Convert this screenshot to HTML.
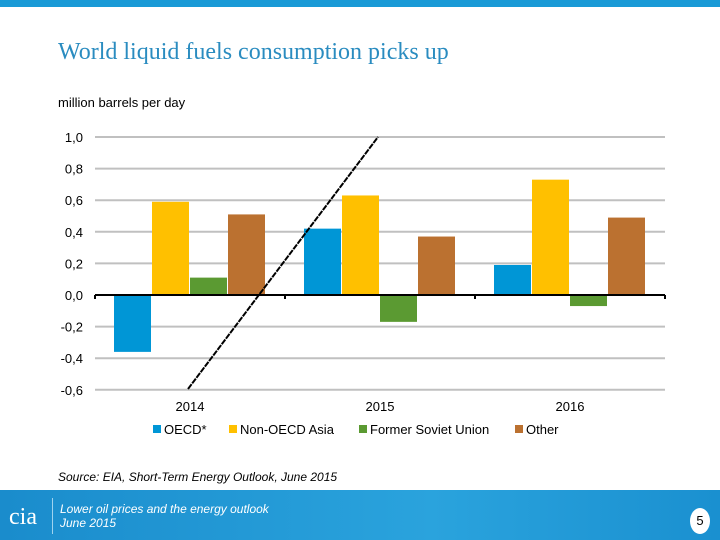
<!DOCTYPE html>
<html><head><meta charset="utf-8"><style>
body{margin:0;width:720px;height:540px;position:relative;background:#fff;overflow:hidden;font-family:"Liberation Sans",sans-serif}
.a{position:absolute}
</style></head><body>
<div class="a" style="left:0;top:0;width:720px;height:7px;background:#1a9ad6"></div>
<div class="a" style="left:58px;top:39px;font-family:'Liberation Serif',serif;font-size:24px;color:#2a8cc0">World liquid fuels consumption picks up</div>
<div class="a" style="left:58px;top:95px;font-size:13px;color:#000">million barrels per day</div>
<svg class="a" style="left:0;top:0" width="720" height="540">
<g id="grid"></g><g id="bars"></g><g id="axis"></g>
<line x1="188" y1="389" x2="378" y2="137" stroke="#000" stroke-width="2" stroke-dasharray="6,1"/>
<g id="legend" font-size="13" font-family="Liberation Sans, sans-serif"></g>
</svg>
<div class="a" style="left:58px;top:470px;font-size:12px;font-style:italic;color:#000">Source: EIA, Short-Term Energy Outlook, June 2015</div>
<div class="a" style="left:0;top:490px;width:720px;height:50px;background:linear-gradient(90deg,#1a8ccc,#2aa3dd 60%,#1a90d0)">
<div class="a" style="left:9px;top:14px;font-family:'Liberation Serif',serif;font-size:24px;color:#fff">cia</div>
<div class="a" style="left:52px;top:8px;width:1px;height:36px;background:#9fd3ef"></div>
<div class="a" style="left:60px;top:12px;font-size:12px;font-style:italic;color:#fff;line-height:14px">Lower oil prices and the energy outlook<br>June 2015</div>
<div class="a" style="left:690px;top:18px;width:20px;height:26px;border-radius:50%;background:#fff;color:#000;font-size:13px;text-align:center;line-height:26px">5</div>
</div>
<script>
const categories=['2014','2015','2016'];
const seriesNames=['OECD*','Non-OECD Asia','Former Soviet Union','Other'];
const oecd=[-0.36,0.42,0.19];
const nonOecdAsia=[0.59,0.63,0.73];
const fsu=[0.11,-0.17,-0.07];
const other=[0.51,0.37,0.49];
const ticks=[1.0,0.8,0.6,0.4,0.2,0.0,-0.2,-0.4,-0.6];
const colors=['#0096d6','#ffc000','#5b9a32','#bb7130'];
const series=[oecd,nonOecdAsia,fsu,other];
const NS='http://www.w3.org/2000/svg';
const X0=95,X1=665,gw=(X1-X0)/categories.length;
const y=v=>295-v*158;
function mk(t,a,p){const e=document.createElementNS(NS,t);for(const k in a)e.setAttribute(k,a[k]);p.appendChild(e);return e;}
const grid=document.getElementById('grid');
ticks.forEach(t=>{
 if(t!==0){const l=mk('line',{x1:X0,x2:X1,y1:y(t),y2:y(t),stroke:'#c0c0c0','stroke-width':2},grid);
 
 }
 const tx=mk('text',{x:83,y:y(t)+5,'text-anchor':'end','font-size':13,fill:'#000'},grid);
 tx.textContent=t.toFixed(1).replace('.',',');
 
 
});
const bars=document.getElementById('bars');
categories.forEach((c,i)=>{
 series.forEach((s,j)=>{
  const v=s[i],x=X0+i*gw+19+j*38;
  const r=mk('rect',{x:x,y:Math.min(y(v),y(0)),width:37,height:Math.abs(y(v)-y(0)),fill:colors[j]},bars);
  
  
 });
 const tx=mk('text',{x:X0+i*gw+gw/2,y:411,'text-anchor':'middle','font-size':13},bars);
 tx.textContent=c;
 
 
});
const ax=document.getElementById('axis');
const al=mk('line',{x1:X0,x2:X1,y1:y(0),y2:y(0),stroke:'#000','stroke-width':2},ax);


for(let i=0;i<=categories.length;i++){mk('line',{x1:X0+i*gw,x2:X0+i*gw,y1:y(0),y2:y(0)+4,stroke:'#000','stroke-width':2},ax);}
const lg=document.getElementById('legend');
const lx=[153,229,359,515];
seriesNames.forEach((n,j)=>{
 const r=mk('rect',{x:lx[j],y:425,width:8,height:8,fill:colors[j]},lg);
 
 
 const t=mk('text',{x:lx[j]+11,y:434},lg);t.textContent=n;
 
 
});
</script>
</body></html>
